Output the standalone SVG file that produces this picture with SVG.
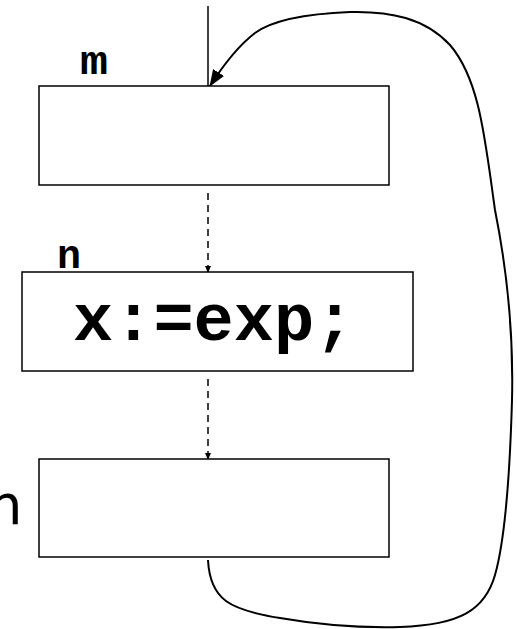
<svg xmlns="http://www.w3.org/2000/svg" width="517" height="629" viewBox="0 0 517 629">
<style>
.box{fill:#fff;stroke:#000;stroke-width:1.5}
.lbl{font-family:"Liberation Mono","Courier New",monospace;font-weight:bold;fill:#000}
.solid{fill:none;stroke:#000;stroke-width:1.5}
.loop{fill:none;stroke:#000;stroke-width:2}
.dash{fill:none;stroke:#000;stroke-width:1.5;stroke-dasharray:7 5}
</style>
<defs>
<marker id="big" markerWidth="17" markerHeight="13" refX="16" refY="6.5" orient="auto" markerUnits="userSpaceOnUse">
<path d="M0,0 L17,6.5 L0,13 Z" fill="#000"/>
</marker>
<marker id="small" markerWidth="7" markerHeight="6" refX="6" refY="3" orient="auto" markerUnits="userSpaceOnUse">
<path d="M0,0 L7,3 L0,6 Z" fill="#000"/>
</marker>
</defs>
<g id="connectors">
<line class="solid" x1="208" y1="6" x2="208" y2="87"/>
<line class="dash" x1="208" y1="193" x2="208" y2="272" marker-end="url(#small)"/>
<line class="dash" x1="208" y1="379" x2="208" y2="459" marker-end="url(#small)"/>
<path class="loop" d="M208,560 C210,600 230,610 280,618 C320,625 360,628 400,627 C460,625 485,610 495,575 C505,540 510,470 512,400 C514,320 503,250 495,210 C485,140 480,80 450,45 C425,18 390,11 350,12 C300,14 270,22 255,33 C238,46 224,64 210,86" marker-end="url(#big)"/>
</g>
<g id="node-m">
<rect class="box" x="39" y="86" width="350" height="99"/>
<text class="lbl" x="80" y="74" font-size="40" textLength="28" lengthAdjust="spacingAndGlyphs">m</text>
</g>
<g id="node-n">
<rect class="box" x="22" y="272" width="391" height="99"/>
<text class="lbl" x="57" y="268" font-size="40">n</text>
<text class="lbl" x="73" y="340" font-size="67">x:=exp;</text>
</g>
<g id="node-3">
<rect class="box" x="39" y="459" width="350" height="98"/>
</g>
<text x="-32" y="524" font-family="'DejaVu Sans',sans-serif" font-size="56" fill="#000">m</text>
</svg>
